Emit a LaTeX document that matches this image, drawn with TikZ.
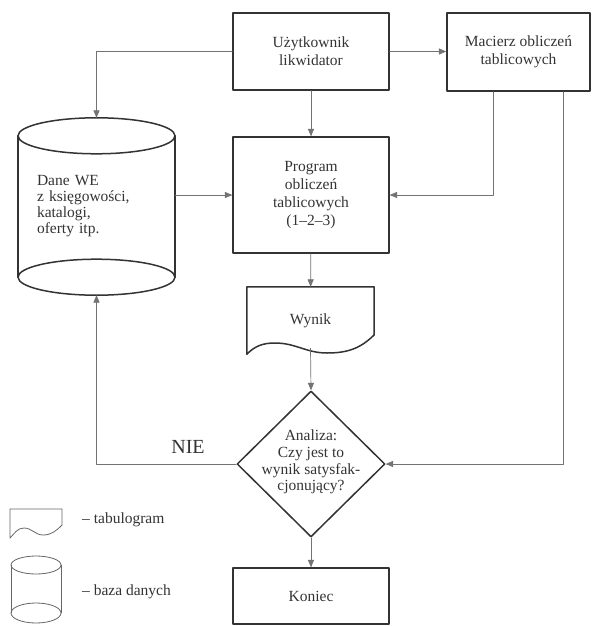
\documentclass[tikz,border=0pt]{standalone}
\usepackage{fontspec}
\setmainfont{Liberation Serif}
\usetikzlibrary{arrows}
\usetikzlibrary{shapes.geometric}

\begin{document}
\begin{tikzpicture}[line cap=round,line join=round,>=triangle 45,x=1pt,y=-1pt,
  box/.style={draw=black!80,line width=1.5pt},
  blok/.style={box,rectangle,minimum width=156pt,align=center,text=black!80,
    font=\fontsize{15.5}{18}\selectfont},
  dbtext/.style={text width=119pt,inner xsep=19pt,minimum height=141pt,align=left,
    text=black!80,font=\fontsize{15.5}{16}\selectfont},
  doc/.style={minimum width=127pt,minimum height=67pt,inner sep=0pt,text=black!80,
    font=\fontsize{15.5}{18}\selectfont},
  conn/.style={->,draw=black!55,line width=0.7pt},
  legenda/.style={draw=black!60,line width=0.8pt},
  opis/.style={anchor=west,inner sep=0pt,text=black!80,font=\fontsize{15.5}{18}\selectfont}]
\useasboundingbox (0,0) rectangle (593,626);
% bloki
\node (uzyt) [blok,minimum height=77pt] at (311,51.5) {Użytkownik\\likwidator};
\node (macierz) [blok,minimum width=143pt,minimum height=78pt] at (518.5,52) {Macierz obliczeń\\tablicowych};
\node (prog) [blok,minimum height=116pt] at (311,195) {Program\\obliczeń\\tablicowych\\(1--2--3)};
\node (koniec) [blok,minimum height=56pt] at (311,596) {Koniec};
% baza danych
\node (dane) [dbtext] at (96.5,206.5) {Dane WE\\z księgowości,\\katalogi,\\oferty itp.};
\draw[box] (dane.north) ellipse (78.5pt and 18pt);
\draw[box] (dane.south) ellipse (78.5pt and 18pt);
\draw[box] (dane.north west) -- (dane.south west) (dane.north east) -- (dane.south east);
% tabulogram
\node (wynik) [doc] at (310.5,320.5) {Wynik};
\draw[box] ([yshift=19pt]wynik.south east) -- (wynik.north east) -- (wynik.north west) -- (wynik.south west)
  to[out=45,in=180] (275,343) to[out=0,in=180] (327,353) to[out=0,in=225] (374,335);
% decyzja
\node (anal) [box,diamond,minimum width=148pt,minimum height=146pt,inner sep=0pt] at (311,464) {};
\node (analtxt) [align=center,text=black!80,font=\fontsize{15.5}{16.7}\selectfont] at (311,462)
  {Analiza:\\Czy jest to\\wynik satysfak-\\cjonujący?};
% polaczenia
\draw[conn] (uzyt.east) -- (uzyt.east -| macierz.west);
\draw[conn] (uzyt.west) -| ([yshift=18pt]dane.north);
\draw[conn] (uzyt) -- (prog);
\draw[conn] (dane.east |- prog.west) -- (prog.west);
\draw[conn] ([xshift=-25pt]macierz.south) |- (prog.east);
\draw[conn] ([xshift=44.5pt]macierz.south) |- (anal.east);
\draw[conn] (prog) -- (wynik);
\draw[conn] ([yshift=6pt]wynik.south) -- (anal.north);
\draw[conn] (anal.west) -| ([yshift=-18pt]dane.south);
\draw[conn] (anal) -- (koniec);
\node (nie) [text=black!80,font=\fontsize{20}{22}\selectfont] at (188,447) {NIE};
% legenda
\draw[legenda] (10,538) -- (10,509) -- (62,509) -- (62,525)
  to[out=225,in=0] (43,535) to[out=180,in=0] (24,528) to[out=180,in=45] (10,538);
\node (ltab) [opis] at (82,520) {-- tabulogram};
\draw[legenda] (36,565) ellipse (25pt and 9pt);
\draw[legenda] (36,613) ellipse (25pt and 10pt);
\draw[legenda] (11,565) -- (11,613) (61,565) -- (61,613);
\node (lbaza) [opis] at (82,592) {-- baza danych};
\end{tikzpicture}
\end{document}
